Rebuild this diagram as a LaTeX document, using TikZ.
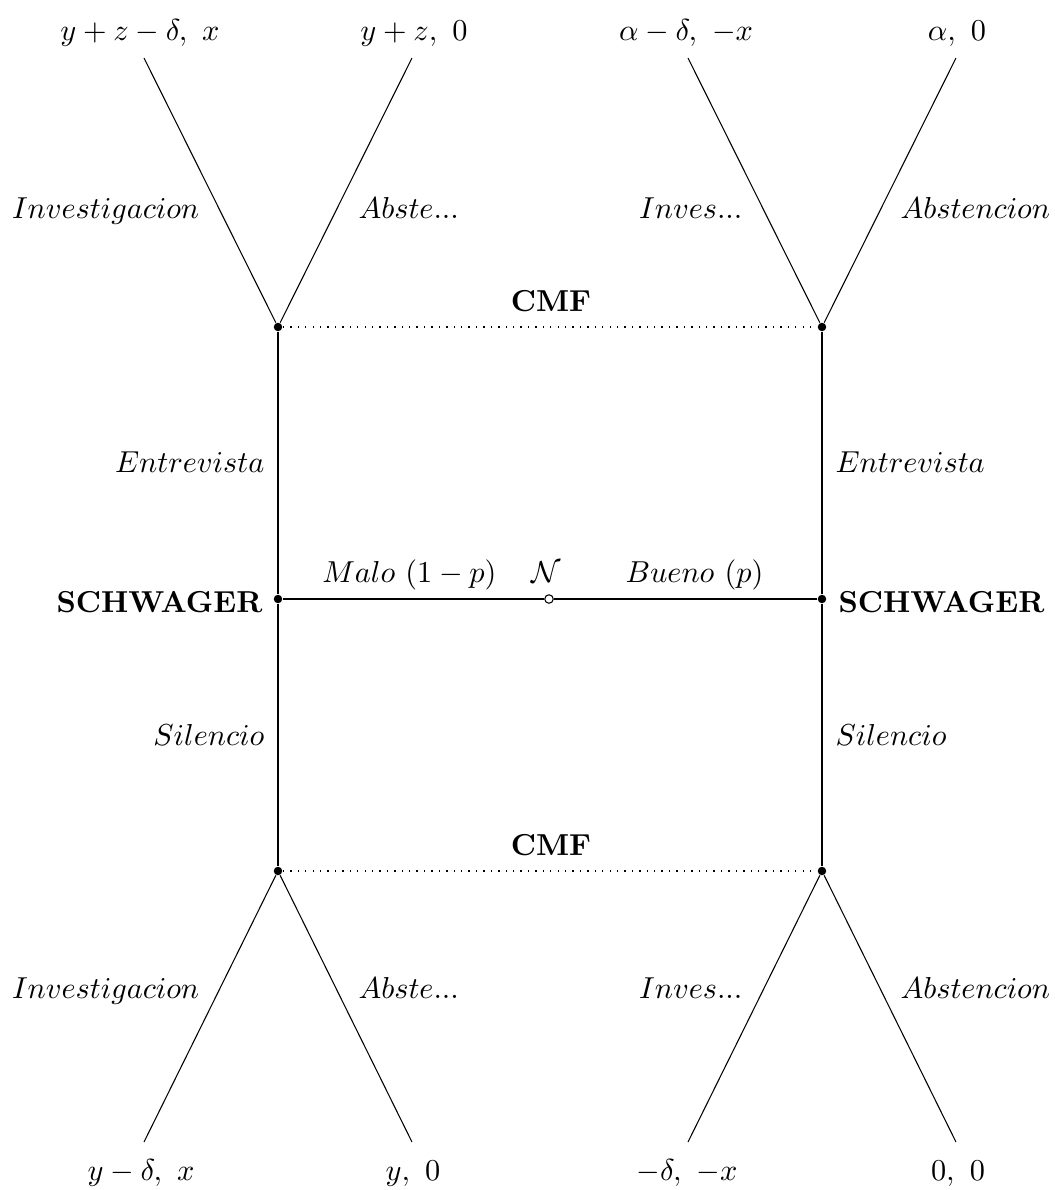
\documentclass[tikz,border=0pt]{standalone}
\begin{document}
\begin{tikzpicture}[x=0.33pt,y=-0.33pt,
  dec/.style={circle,fill=black,inner sep=0pt,minimum size=2.8pt},
  chance/.style={circle,draw=black,fill=white,inner sep=0pt,minimum size=2.8pt,line width=0.35pt},
  lab/.style={inner sep=0pt},
  player/.style={inner sep=0pt,font=\bfseries},
  edge/.style={line width=0.35pt},
  info/.style={dotted,line width=0.45pt}]
\useasboundingbox (0,0) rectangle (1055,1190);
% decision nodes
\node[dec] (cmfTL) at (278,327) {};
\node[dec] (cmfTR) at (822,327) {};
\node[dec] (schL) at (278,599) {};
\node[dec] (schR) at (822,599) {};
\node[dec] (cmfBL) at (278,871) {};
\node[dec] (cmfBR) at (822,871) {};
\node[chance] (nat) at (549,599) {};
% leaves
\coordinate (l1) at (144,58);
\coordinate (l2) at (412,58);
\coordinate (l3) at (688,58);
\coordinate (l4) at (956,58);
\coordinate (b1) at (144,1142);
\coordinate (b2) at (412,1142);
\coordinate (b3) at (688,1142);
\coordinate (b4) at (956,1142);
% payoffs
\node[lab,anchor=base] (p1) at (140,40) {$y+z-\delta,\ x$};
\node[lab,anchor=base] (p2) at (414,40) {$y+z,\ 0$};
\node[lab,anchor=base] (p3) at (686,40) {$\alpha-\delta,\ -x$};
\node[lab,anchor=base] (p4) at (957,40) {$\alpha,\ 0$};
\node[lab,anchor=base] (q1) at (141,1180) {$y-\delta,\ x$};
\node[lab,anchor=base] (q2) at (413,1180) {$y,\ 0$};
\node[lab,anchor=base] (q3) at (687,1180) {$-\delta,\ -x$};
\node[lab,anchor=base] (q4) at (958,1180) {$0,\ 0$};
% edges
\draw[edge] (cmfTL) -- (l1);
\draw[edge] (cmfTL) -- (l2);
\draw[edge] (cmfTR) -- (l3);
\draw[edge] (cmfTR) -- (l4);
\draw[edge] (cmfBL) -- (b1);
\draw[edge] (cmfBL) -- (b2);
\draw[edge] (cmfBR) -- (b3);
\draw[edge] (cmfBR) -- (b4);
\draw[edge] (schL) -- (cmfTL);
\draw[edge] (schL) -- (cmfBL);
\draw[edge] (schR) -- (cmfTR);
\draw[edge] (schR) -- (cmfBR);
\draw[edge] (nat) -- (schL);
\draw[edge] (nat) -- (schR);
\draw[info] (cmfTL) -- (cmfTR);
\draw[info] (cmfBL) -- (cmfBR);
% action labels
\node[lab,anchor=base east] (a1) at (200,218) {$Investigacion$};
\node[lab,anchor=base west] (a2) at (358,218) {$Abste...$};
\node[lab,anchor=base east] (a3) at (743,218) {$Inves...$};
\node[lab,anchor=base west] (a4) at (900,218) {$Abstencion$};
\node[lab,anchor=base east] (a5) at (200,998) {$Investigacion$};
\node[lab,anchor=base west] (a6) at (358,998) {$Abste...$};
\node[lab,anchor=base east] (a7) at (743,998) {$Inves...$};
\node[lab,anchor=base west] (a8) at (900,998) {$Abstencion$};
\node[lab,anchor=base east] (e1) at (265,472) {$Entrevista$};
\node[lab,anchor=base west] (e2) at (835,472) {$Entrevista$};
\node[lab,anchor=base east] (s1) at (265,745) {$Silencio$};
\node[lab,anchor=base west] (s2) at (835,745) {$Silencio$};
\node[lab,anchor=base east] (m1) at (497,582) {$Malo\ (1-p)$};
\node[lab,anchor=base] (nl) at (546,582) {$\mathcal{N}$};
\node[lab,anchor=base west] (m2) at (625,582) {$Bueno\ (p)$};
% players
\node[player,anchor=base] (cmf1) at (551,311) {CMF};
\node[player,anchor=base] (cmf2) at (551,855) {CMF};
\node[player,anchor=base east] (pl1) at (263,612) {SCHWAGER};
\node[player,anchor=base west] (pl2) at (838,612) {SCHWAGER};
\end{tikzpicture}
\end{document}
